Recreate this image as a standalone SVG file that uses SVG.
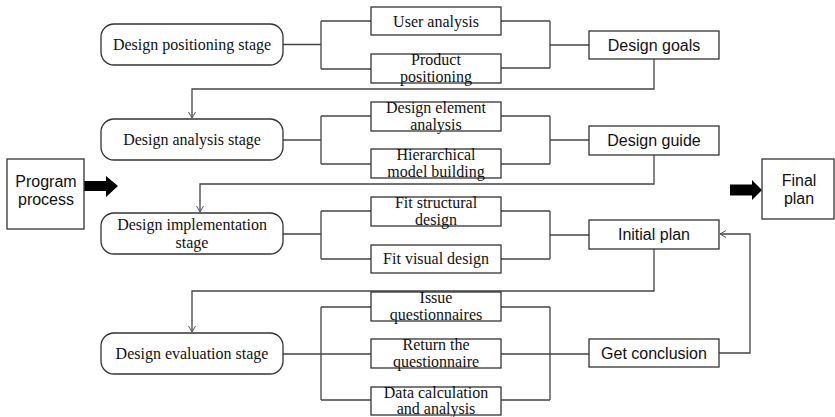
<svg xmlns="http://www.w3.org/2000/svg" width="835" height="417" viewBox="0 0 835 417">
<defs>
<style>
.stage{fill:#fff;stroke:#333;stroke-width:1.3}
.box{fill:#fff;stroke:#333;stroke-width:1.3}
.ln{fill:none;stroke:#444;stroke-width:1.3}
.ser{font-family:"Liberation Serif","Times New Roman",serif;font-size:16px;fill:#111;text-anchor:middle}
.san{font-family:"Liberation Sans",Arial,sans-serif;font-size:16px;fill:#111;text-anchor:middle}
</style>
<marker id="ah" markerWidth="10" markerHeight="10" refX="7" refY="4" orient="auto" markerUnits="userSpaceOnUse">
<path d="M1,0.5 L7,4 L1,7.5" fill="none" stroke="#555" stroke-width="1"/>
</marker>
</defs>
<rect width="835" height="417" fill="#fff"/>
<g id="connectors">
<path class="ln" d="M283,44.5 H321 M321,21 V69 M321,21 H371 M321,69 H371"/>
<path class="ln" d="M501,21 H550 M501,68 H550 M550,21 V68 M550,45 H589"/>
<path class="ln" d="M654,59 V89 H192 V118" marker-end="url(#ah)"/>
<path class="ln" d="M283,140 H321 M321,116 V164 M321,116 H371 M321,164 H371"/>
<path class="ln" d="M501,116 H550 M501,164 H550 M550,116 V164 M550,140 H589"/>
<path class="ln" d="M654,155 V184 H200 V212" marker-end="url(#ah)"/>
<path class="ln" d="M283,234 H321 M321,211 V259 M321,211 H371 M321,259 H371"/>
<path class="ln" d="M501,211 H550 M501,259 H550 M550,211 V259 M550,235 H589"/>
<path class="ln" d="M654,249 V291 H192 V332" marker-end="url(#ah)"/>
<path class="ln" d="M283,354 H371 M321,307 V400 M321,307 H371 M321,400 H371"/>
<path class="ln" d="M501,307 H550 M501,400 H550 M550,307 V400 M501,354 H589"/>
<path class="ln" d="M719,353 H750 V234 H720" marker-end="url(#ah)"/>
<path d="M84,181 H106 V176 L118,186 L106,197 V191 H84 Z" fill="#000"/>
<path d="M730,184.5 H752 V180 L762,190 L752,200 V195.5 H730 Z" fill="#000"/>
</g>
<g id="program-process"><rect class="box" x="7" y="159" width="77" height="70"/><text class="san" x="46" y="187">Program</text><text class="san" x="46" y="205">process</text></g>
<g id="final-plan"><rect class="box" x="762" y="159" width="72" height="60"/><text class="san" x="799" y="186">Final</text><text class="san" x="799" y="204">plan</text></g>
<g id="stage-positioning"><rect class="stage" x="101" y="24" width="182" height="41" rx="13"/><text class="ser" x="192" y="50">Design positioning stage</text></g>
<g id="stage-analysis"><rect class="stage" x="101" y="119" width="182" height="41" rx="13"/><text class="ser" x="192" y="145">Design analysis stage</text></g>
<g id="stage-implementation"><rect class="stage" x="101" y="213" width="182" height="41" rx="13"/><text class="ser" x="192" y="230">Design implementation</text><text class="ser" x="192" y="248">stage</text></g>
<g id="stage-evaluation"><rect class="stage" x="101" y="333" width="182" height="41" rx="13"/><text class="ser" x="192" y="359">Design evaluation stage</text></g>
<g id="user-analysis"><rect class="box" x="371" y="7" width="130" height="28"/><text class="ser" x="436" y="27">User analysis</text></g>
<g id="product-positioning"><rect class="box" x="371" y="54" width="130" height="29"/><text class="ser" x="436" y="65">Product</text><text class="ser" x="436" y="82">positioning</text></g>
<g id="design-element-analysis"><rect class="box" x="371" y="102" width="130" height="29"/><text class="ser" x="436" y="113">Design element</text><text class="ser" x="436" y="130">analysis</text></g>
<g id="hierarchical-model"><rect class="box" x="371" y="149" width="130" height="29"/><text class="ser" x="436" y="160">Hierarchical</text><text class="ser" x="436" y="177">model building</text></g>
<g id="fit-structural"><rect class="box" x="371" y="197" width="130" height="29"/><text class="ser" x="436" y="208">Fit structural</text><text class="ser" x="436" y="225">design</text></g>
<g id="fit-visual"><rect class="box" x="371" y="245" width="130" height="28"/><text class="ser" x="436" y="264">Fit visual design</text></g>
<g id="issue-questionnaires"><rect class="box" x="371" y="292" width="130" height="29"/><text class="ser" x="436" y="303">Issue</text><text class="ser" x="436" y="320">questionnaires</text></g>
<g id="return-questionnaire"><rect class="box" x="371" y="339" width="130" height="29"/><text class="ser" x="436" y="350">Return the</text><text class="ser" x="436" y="367">questionnaire</text></g>
<g id="data-calculation"><rect class="box" x="371" y="387" width="130" height="28"/><text class="ser" x="436" y="398">Data calculation</text><text class="ser" x="436" y="414">and analysis</text></g>
<g id="design-goals"><rect class="box" x="589" y="31" width="130" height="28"/><text class="san" x="654" y="51">Design goals</text></g>
<g id="design-guide"><rect class="box" x="589" y="126" width="130" height="29"/><text class="san" x="654" y="146">Design guide</text></g>
<g id="initial-plan"><rect class="box" x="589" y="220" width="130" height="29"/><text class="san" x="654" y="240">Initial plan</text></g>
<g id="get-conclusion"><rect class="box" x="589" y="339" width="130" height="28"/><text class="san" x="654" y="359">Get conclusion</text></g>
</svg>
